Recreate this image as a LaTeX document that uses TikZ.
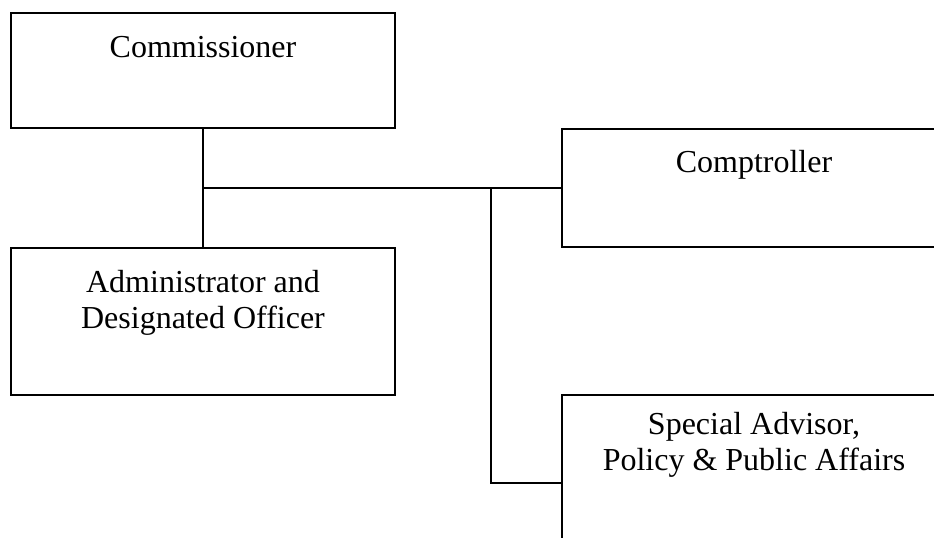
\documentclass[tikz,border=0pt]{standalone}
\usepackage{fontspec}
\setmainfont{Liberation Serif}
\usepackage{tikz}

\begin{document}
\begin{tikzpicture}[x=0.5pt, y=-0.5pt, line width=1pt,
    post/.style={draw, rectangle, inner sep=0pt, minimum width=192pt, align=center,
      font=\fontsize{16}{18}\selectfont}]

  \useasboundingbox (0,0) rectangle (934,537);

  % boxes
  \node[post, text height=22pt, text depth=35.5pt] (comm) at (203,70.5) {Commissioner};
  \node[post, text height=21.5pt, text depth=37.5pt] (comp) at (754,188) {Comptroller};
  \node[post, text height=40pt, text depth=33.5pt] (admin) at (203,321.5) {Administrator and\\Designated Officer};
  \node[post, text height=37.5pt, text depth=50.5pt] (spec) at (754,483) {Special Advisor,\\Policy \& Public Affairs};

  \coordinate (hub) at (203,188);
  \coordinate (tap) at (491,188);

  % lines
  \draw (comm.south) -- (admin.north); %% comm -> admin
  \draw (hub) -- (comp.west); %% -> comp
  \draw (tap) |- (spec.west); %% -> spec

\end{tikzpicture}
\end{document}
